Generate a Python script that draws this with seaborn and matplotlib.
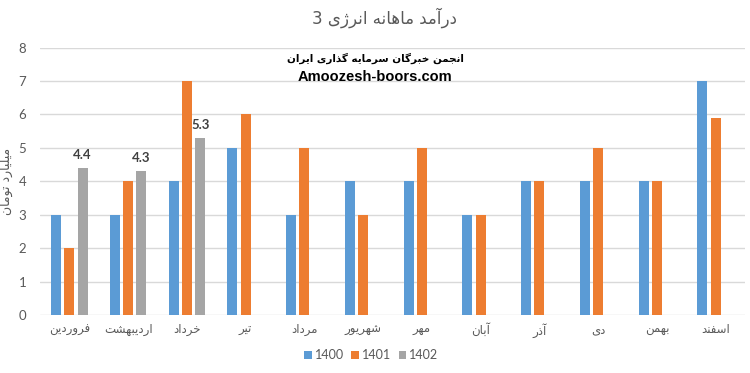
import re
import numpy as np
import pandas as pd
import matplotlib
matplotlib.use("Agg")
import matplotlib.pyplot as plt
import seaborn as sns

# ---------------- data ----------------
months = ["فروردین", "اردیبهشت", "خرداد", "تیر", "مرداد", "شهریور",
          "مهر", "آبان", "آذر", "دی", "بهمن", "اسفند"]
years = ["1400", "1401", "1402"]
v1400 = [3, 3, 4, 5, 3, 4, 4, 3, 4, 4, 4, 7]
v1401 = [2, 4, 7, 6, 5, 3, 5, 3, 4, 5, 4, 5.9]
v1402 = [4.4, 4.3, 5.3, np.nan, np.nan, np.nan, np.nan, np.nan, np.nan, np.nan, np.nan, np.nan]
title = "درآمد ماهانه انرژی 3"
ylabel = "میلیارد تومان"
watermark1 = "انجمن خبرگان سرمایه گذاری ایران"
watermark2 = "Amoozesh-boors.com"
colors = ["#5B9BD5", "#ED7D31", "#A5A5A5"]

# ---------------- minimal Persian shaping (display only) ----------------
_FORMS = {
    "ا": ("\uFE8D", "\uFE8E"), "آ": ("\uFE81", "\uFE82"),
    "د": ("\uFEA9", "\uFEAA"), "ذ": ("\uFEAB", "\uFEAC"),
    "ر": ("\uFEAD", "\uFEAE"), "ز": ("\uFEAF", "\uFEB0"),
    "ژ": ("\uFB8A", "\uFB8B"), "و": ("\uFEED", "\uFEEE"),
    "ب": ("\uFE8F", "\uFE90", "\uFE91", "\uFE92"),
    "پ": ("\uFB56", "\uFB57", "\uFB58", "\uFB59"),
    "ت": ("\uFE95", "\uFE96", "\uFE97", "\uFE98"),
    "ث": ("\uFE99", "\uFE9A", "\uFE9B", "\uFE9C"),
    "ج": ("\uFE9D", "\uFE9E", "\uFE9F", "\uFEA0"),
    "چ": ("\uFB7A", "\uFB7B", "\uFB7C", "\uFB7D"),
    "ح": ("\uFEA1", "\uFEA2", "\uFEA3", "\uFEA4"),
    "خ": ("\uFEA5", "\uFEA6", "\uFEA7", "\uFEA8"),
    "س": ("\uFEB1", "\uFEB2", "\uFEB3", "\uFEB4"),
    "ش": ("\uFEB5", "\uFEB6", "\uFEB7", "\uFEB8"),
    "ص": ("\uFEB9", "\uFEBA", "\uFEBB", "\uFEBC"),
    "ض": ("\uFEBD", "\uFEBE", "\uFEBF", "\uFEC0"),
    "ط": ("\uFEC1", "\uFEC2", "\uFEC3", "\uFEC4"),
    "ظ": ("\uFEC5", "\uFEC6", "\uFEC7", "\uFEC8"),
    "ع": ("\uFEC9", "\uFECA", "\uFECB", "\uFECC"),
    "غ": ("\uFECD", "\uFECE", "\uFECF", "\uFED0"),
    "ف": ("\uFED1", "\uFED2", "\uFED3", "\uFED4"),
    "ق": ("\uFED5", "\uFED6", "\uFED7", "\uFED8"),
    "ک": ("\uFB8E", "\uFB8F", "\uFB90", "\uFB91"),
    "گ": ("\uFB92", "\uFB93", "\uFB94", "\uFB95"),
    "ل": ("\uFEDD", "\uFEDE", "\uFEDF", "\uFEE0"),
    "م": ("\uFEE1", "\uFEE2", "\uFEE3", "\uFEE4"),
    "ن": ("\uFEE5", "\uFEE6", "\uFEE7", "\uFEE8"),
    "ه": ("\uFEE9", "\uFEEA", "\uFEEB", "\uFEEC"),
    "ی": ("\uFBFC", "\uFBFD", "\uFBFE", "\uFBFF"),
}


def rtl(text):
    out = []
    n = len(text)
    for i, ch in enumerate(text):
        f = _FORMS.get(ch)
        if f is None:
            out.append(ch)
            continue
        prev = text[i - 1] if i > 0 else None
        nxt = text[i + 1] if i < n - 1 else None
        cp = prev is not None and prev in _FORMS and len(_FORMS[prev]) == 4
        cn = len(f) == 4 and nxt is not None and nxt in _FORMS
        if cp and cn:
            out.append(f[3])
        elif cp:
            out.append(f[1])
        elif cn:
            out.append(f[2])
        else:
            out.append(f[0])
    vis = "".join(out)[::-1]
    return re.sub(r"[0-9.]+", lambda m: m.group(0)[::-1], vis)


# ---------------- plotting ----------------
sns.set_theme(style="white")
plt.rcParams["font.family"] = ["Lato", "DejaVu Sans"]

df = pd.DataFrame({
    "month": months * 3,
    "year": [y for y in years for _ in months],
    "value": v1400 + v1401 + v1402,
})

fig = plt.figure(figsize=(7.5, 3.73), dpi=100)
ax = fig.add_axes([40 / 750, (373 - 315) / 373, 705 / 750, (315 - 47.6) / 373])

sns.barplot(data=df, x="month", y="value", hue="year", order=months,
            hue_order=years, palette=colors, width=0.68, gap=0.25,
            saturation=1, ax=ax, linewidth=0, edgecolor="none",
            err_kws={"linewidth": 0})

ax.set_ylim(0, 8)
ax.set_xlim(-0.5, 11.5)
ax.set_yticks(range(9))
ax.yaxis.grid(True, color="#D9D9D9", linewidth=1)
ax.set_axisbelow(True)
for s in ax.spines.values():
    s.set_visible(False)
ax.tick_params(axis="both", length=0, colors="#595959")
ax.tick_params(axis="y", pad=10, labelsize=9.5)
ax.tick_params(axis="x", pad=6)
ax.set_xticks(range(len(months)))
ax.set_xticklabels([rtl(m) for m in months], fontsize=8.5,
                   family=["DejaVu Sans"], color="#595959")
ax.set_xlabel("")
ax.set_ylabel(rtl(ylabel), fontsize=9, color="#595959", family=["DejaVu Sans"],
              labelpad=4)
ax.yaxis.set_label_coords(-0.038, 0.5)

# data labels for 1402
cont = ax.containers[2]
ax.bar_label(cont, labels=[f"{v:.1f}" if not np.isnan(v) else "" for v in cont.datavalues],
             padding=5, fontsize=9.5, fontweight="bold", color="#404040")

fig.text(0.513, 1 - 18 / 373, rtl(title), ha="center", va="center",
         fontsize=12, color="#595959", family=["DejaVu Sans"])
fig.text(375 / 750, 1 - 58 / 373, rtl(watermark1), ha="center", va="center",
         fontsize=7.5, fontweight="bold", color="black", family=["DejaVu Sans"])
fig.text(375 / 750, 1 - 77 / 373, watermark2, ha="center", va="center",
         fontsize=10.5, fontweight="bold", color="black", family=["Liberation Sans"])

handles, labels = ax.get_legend_handles_labels()
leg = ax.legend(handles, labels, loc="center", ncol=3, frameon=False, fontsize=9,
                handlelength=0.6, handleheight=0.6, handletextpad=0.25,
                columnspacing=0.6, labelcolor="#595959",
                bbox_to_anchor=(0.495, (373 - 355) / 373),
                bbox_transform=fig.transFigure)

fig.savefig("out.png", dpi=100)
